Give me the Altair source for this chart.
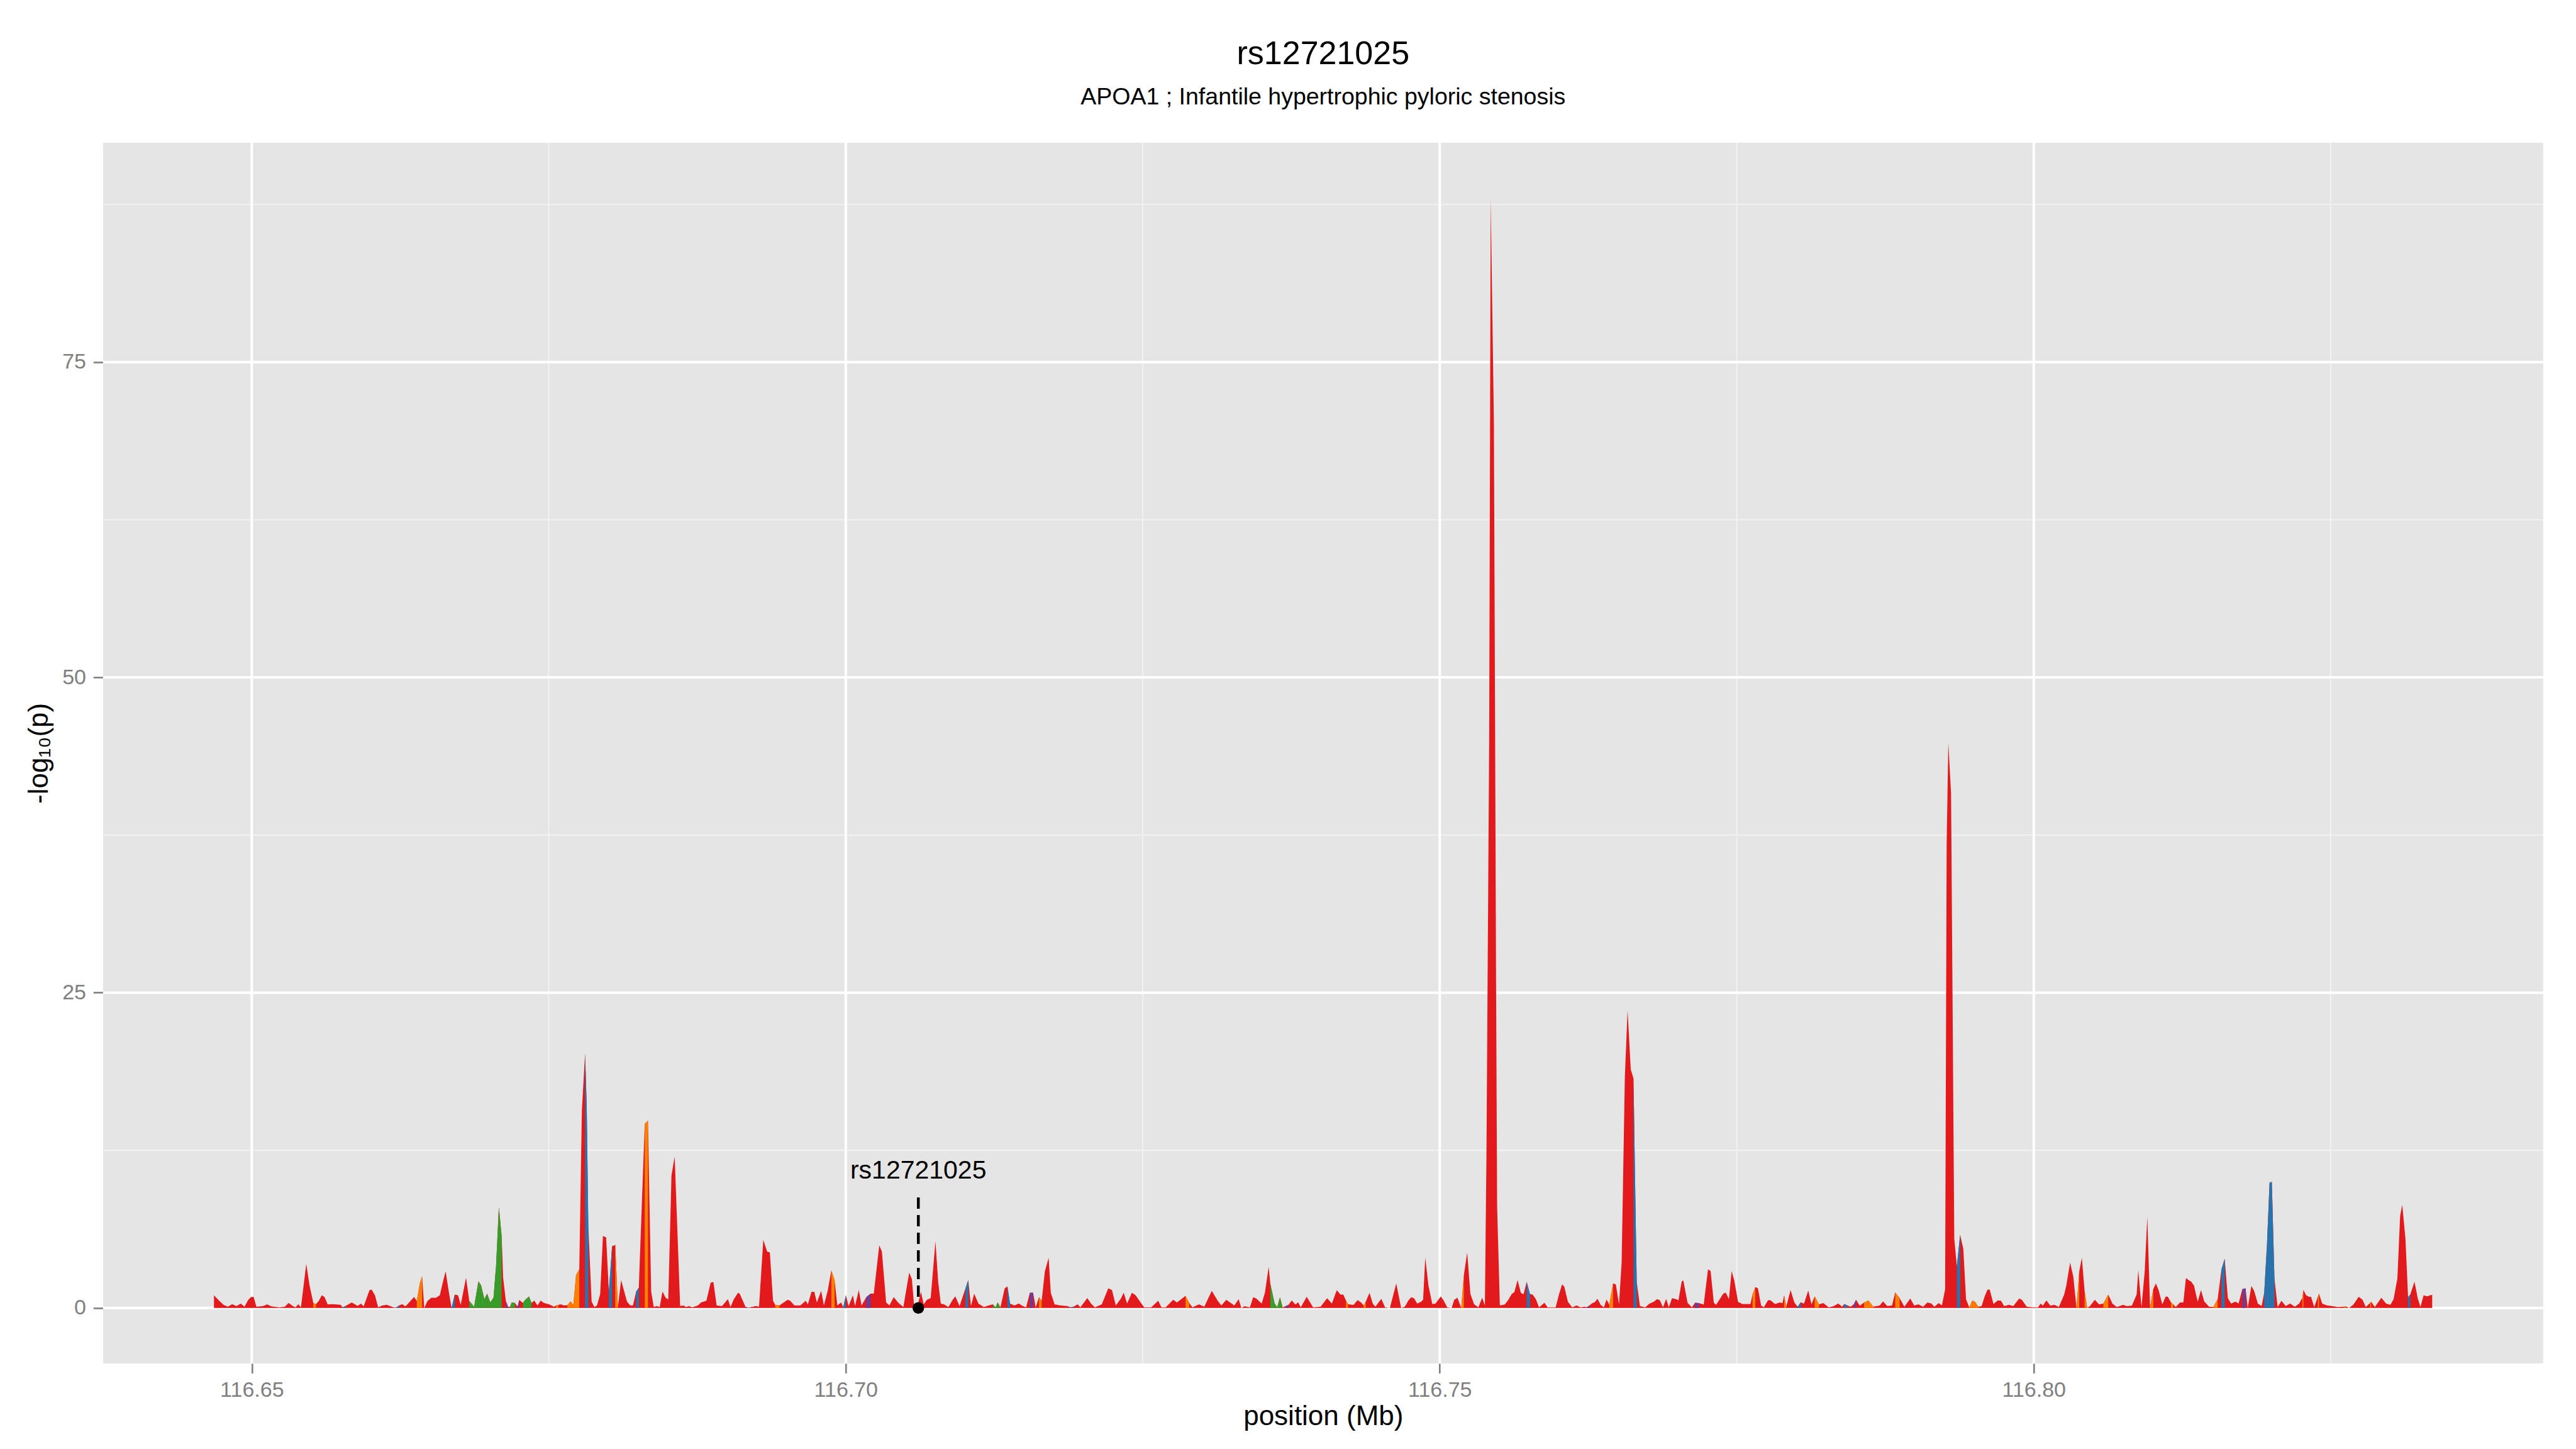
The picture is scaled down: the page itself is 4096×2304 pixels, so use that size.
import altair as alt
import pandas as pd
import numpy as np

# ---------------- text ----------------
TITLE = "rs12721025"
SUBTITLE = "APOA1 ; Infantile hypertrophic pyloric stenosis"
X_TITLE = "position (Mb)"
Y_TITLE = "-log\u2081\u2080(p)"
SNP_LABEL = "rs12721025"
SNP_POS = 116.70611
SNP_LINE_TOP = 8.76
SNP_LABEL_Y = 10.25

# ---------------- axes ----------------
X_DOMAIN = [116.63748, 116.84288]
Y_DOMAIN = [-4.4, 92.4]
X_MAJOR = [116.65, 116.70, 116.75, 116.80]
X_MINOR = [116.675, 116.725, 116.775, 116.825]
Y_MAJOR = [0, 25, 50, 75]
Y_MINOR = [12.5, 37.5, 62.5, 87.5]

# ---------------- data ----------------
position = [
    116.64682, 116.64723, 116.64763, 116.64799, 116.64835, 116.64872, 116.64908, 116.64939, 116.64971, 116.64994,
    116.65016, 116.65039, 116.65097, 116.65129, 116.65166, 116.65233, 116.65278, 116.65310, 116.65346, 116.65369,
    116.65391, 116.65414, 116.65459, 116.65486, 116.65518, 116.65540, 116.65563, 116.65590, 116.65612, 116.65639,
    116.65689, 116.65748, 116.65766, 116.65788, 116.65842, 116.65892, 116.65919, 116.65942, 116.65991, 116.66009,
    116.66037, 116.66064, 116.66100, 116.66136, 116.66195, 116.66218, 116.66240, 116.66267, 116.66294, 116.66340,
    116.66367, 116.66389, 116.66416, 116.66434, 116.66452, 116.66479, 116.66511, 116.66551, 116.66583, 116.66610,
    116.66632, 116.66660, 116.66682, 116.66709, 116.66736, 116.66759, 116.66781, 116.66804, 116.66831, 116.66872,
    116.66908, 116.66930, 116.66958, 116.66981, 116.67008, 116.67035, 116.67057, 116.67080, 116.67103, 116.67116,
    116.67139, 116.67157, 116.67175, 116.67188, 116.67215, 116.67238, 116.67252, 116.67283, 116.67301, 116.67333,
    116.67355, 116.67378, 116.67405, 116.67432, 116.67459, 116.67504, 116.67544, 116.67563, 116.67581, 116.67603,
    116.67626, 116.67657, 116.67684, 116.67707, 116.67730, 116.67757, 116.67779, 116.67806, 116.67820, 116.67833,
    116.67861, 116.67884, 116.67906, 116.67933, 116.67956, 116.67983, 116.68006, 116.68033, 116.68060, 116.68082,
    116.68109, 116.68159, 116.68186, 116.68209, 116.68236, 116.68258, 116.68308, 116.68335, 116.68362, 116.68384,
    116.68407, 116.68434, 116.68457, 116.68484, 116.68506, 116.68533, 116.68560, 116.68606, 116.68633, 116.68655,
    116.68678, 116.68709, 116.68755, 116.68782, 116.68827, 116.68863, 116.68886, 116.68913, 116.68958, 116.69008,
    116.69030, 116.69058, 116.69094, 116.69107, 116.69157, 116.69179, 116.69243, 116.69270, 116.69306, 116.69338,
    116.69361, 116.69388, 116.69406, 116.69442, 116.69510, 116.69532, 116.69568, 116.69618, 116.69663, 116.69681,
    116.69712, 116.69735, 116.69757, 116.69793, 116.69816, 116.69848, 116.69879, 116.69906, 116.69929, 116.69961,
    116.69979, 116.70001, 116.70024, 116.70060, 116.70078, 116.70110, 116.70133, 116.70173, 116.70209, 116.70236,
    116.70282, 116.70304, 116.70340, 116.70367, 116.70404, 116.70440, 116.70485, 116.70534, 116.70557, 116.70575,
    116.70611, 116.70633, 116.70656, 116.70683, 116.70715, 116.70755, 116.70778, 116.70800, 116.70827, 116.70864,
    116.70900, 116.70922, 116.70958, 116.71008, 116.71031, 116.71054, 116.71081, 116.71117, 116.71162, 116.71203,
    116.71239, 116.71261, 116.71279, 116.71302, 116.71338, 116.71361, 116.71383, 116.71419, 116.71456, 116.71491,
    116.71518, 116.71550, 116.71577, 116.71599, 116.71627, 116.71649, 116.71676, 116.71708, 116.71726, 116.71758,
    116.71807, 116.71866, 116.71893, 116.71916, 116.71952, 116.71975, 116.72033, 116.72065, 116.72097, 116.72155,
    116.72210, 116.72241, 116.72273, 116.72313, 116.72340, 116.72368, 116.72409, 116.72440, 116.72472, 116.72512,
    116.72571, 116.72630, 116.72657, 116.72693, 116.72756, 116.72788, 116.72860, 116.72891, 116.72918, 116.72973,
    116.73018, 116.73081, 116.73131, 116.73162, 116.73203, 116.73271, 116.73307, 116.73330, 116.73357, 116.73402,
    116.73429, 116.73456, 116.73501, 116.73528, 116.73560, 116.73574, 116.73610, 116.73632, 116.73655, 116.73677,
    116.73704, 116.73727, 116.73754, 116.73785, 116.73808, 116.73830, 116.73880, 116.73934, 116.73997, 116.74052,
    116.74092, 116.74133, 116.74165, 116.74188, 116.74210, 116.74228, 116.74273, 116.74309, 116.74341, 116.74359,
    116.74377, 116.74409, 116.74436, 116.74458, 116.74508, 116.74540, 116.74580, 116.74634, 116.74675, 116.74706,
    116.74738, 116.74760, 116.74783, 116.74810, 116.74842, 116.74860, 116.74878, 116.74905, 116.74937, 116.74964,
    116.75009, 116.75031, 116.75063, 116.75100, 116.75122, 116.75149, 116.75181, 116.75203, 116.75231, 116.75258,
    116.75289, 116.75325, 116.75357, 116.75380, 116.75393, 116.75416, 116.75429, 116.75456, 116.75474, 116.75483,
    116.75506, 116.75547, 116.75574, 116.75606, 116.75628, 116.75655, 116.75683, 116.75705, 116.75732, 116.75759,
    116.75782, 116.75809, 116.75836, 116.75881, 116.75908, 116.75976, 116.76003, 116.76030, 116.76048, 116.76079,
    116.76115, 116.76152, 116.76183, 116.76224, 116.76237, 116.76260, 116.76283, 116.76305, 116.76328, 116.76355,
    116.76382, 116.76404, 116.76427, 116.76459, 116.76482, 116.76509, 116.76531, 116.76558, 116.76581, 116.76608,
    116.76631, 116.76644, 116.76658, 116.76685, 116.76730, 116.76762, 116.76802, 116.76829, 116.76852, 116.76879,
    116.76906, 116.76928, 116.76955, 116.76991, 116.77009, 116.77037, 116.77050, 116.77086, 116.77122, 116.77149,
    116.77181, 116.77222, 116.77258, 116.77280, 116.77307, 116.77326, 116.77362, 116.77385, 116.77407, 116.77434,
    116.77457, 116.77479, 116.77511, 116.77547, 116.77574, 116.77615, 116.77633, 116.77656, 116.77678, 116.77705,
    116.77728, 116.77764, 116.77786, 116.77822, 116.77863, 116.77885, 116.77899, 116.77917, 116.77953, 116.77985,
    116.78012, 116.78039, 116.78066, 116.78102, 116.78129, 116.78156, 116.78192, 116.78229, 116.78274, 116.78310,
    116.78355, 116.78387, 116.78405, 116.78432, 116.78459, 116.78486, 116.78504, 116.78536, 116.78572, 116.78608,
    116.78649, 116.78704, 116.78731, 116.78767, 116.78807, 116.78834, 116.78871, 116.78911, 116.78961, 116.78993,
    116.79029, 116.79069, 116.79105, 116.79137, 116.79164, 116.79200, 116.79227, 116.79254, 116.79267, 116.79281,
    116.79304, 116.79331, 116.79353, 116.79380, 116.79407, 116.79430, 116.79457, 116.79484, 116.79507, 116.79534,
    116.79561, 116.79588, 116.79611, 116.79629, 116.79661, 116.79697, 116.79724, 116.79751, 116.79792, 116.79828,
    116.79877, 116.79900, 116.79941, 116.79995, 116.80036, 116.80058, 116.80076, 116.80107, 116.80139, 116.80175,
    116.80211, 116.80256, 116.80274, 116.80306, 116.80333, 116.80360, 116.80383, 116.80405, 116.80428, 116.80450,
    116.80473, 116.80514, 116.80550, 116.80586, 116.80627, 116.80663, 116.80699, 116.80753, 116.80780, 116.80826,
    116.80866, 116.80880, 116.80907, 116.80934, 116.80956, 116.80979, 116.81006, 116.81028, 116.81051, 116.81082,
    116.81110, 116.81128, 116.81155, 116.81173, 116.81195, 116.81231, 116.81259, 116.81281, 116.81304, 116.81326,
    116.81349, 116.81380, 116.81408, 116.81435, 116.81476, 116.81512, 116.81548, 116.81580, 116.81607, 116.81634,
    116.81661, 116.81697, 116.81724, 116.81756, 116.81783, 116.81801, 116.81832, 116.81855, 116.81886, 116.81918,
    116.81940, 116.81963, 116.81985, 116.82004, 116.82026, 116.82053, 116.82085, 116.82121, 116.82157, 116.82198,
    116.82234, 116.82261, 116.82270, 116.82293, 116.82316, 116.82334, 116.82361, 116.82392, 116.82401, 116.82428,
    116.82465, 116.82510, 116.82559, 116.82609, 116.82627, 116.82654, 116.82690, 116.82735, 116.82768, 116.82795,
    116.82831, 116.82840, 116.82871, 116.82926, 116.82966, 116.83002, 116.83029, 116.83061, 116.83084, 116.83102,
    116.83129, 116.83151, 116.83169, 116.83205, 116.83232, 116.83255, 116.83282, 116.83309, 116.83354,
]

log_p = [
    1.0, 0.6, 0.25, 0.1, 0.3, 0.15, 0.35, 0.1, 0.65, 0.87,
    0.87, 0.1, 0.15, 0.28, 0.12, 0.05, 0.1, 0.4, 0.15, 0.05,
    0.3, 0.05, 3.5, 1.8, 0.4, 0.3, 0.55, 1.0, 0.87, 0.28,
    0.3, 0.24, 0.05, 0.15, 0.43, 0.16, 0.35, 0.12, 1.4, 1.46,
    1.0, 0.05, 0.2, 0.24, 0.05, 0.05, 0.2, 0.3, 0.12, 0.6,
    0.87, 0.55, 2.0, 2.5, 0.0, 0.55, 0.8, 0.8, 1.0, 2.1,
    2.9, 1.2, 0.0, 1.05, 1.0, 0.24, 1.3, 2.4, 0.55, 0.1,
    2.1, 1.8, 0.7, 1.13, 0.44, 0.8, 3.4, 8.0, 5.75, 2.4,
    0.55, 0.08, 0.1, 0.43, 0.4, 0.1, 0.63, 0.4, 0.63, 0.9,
    0.4, 0.58, 0.2, 0.58, 0.4, 0.28, 0.1, 0.2, 0.24, 0.28,
    0.2, 0.22, 0.52, 0.25, 2.6, 3.06, 15.7, 20.2, 15.8, 6.5,
    0.5, 0.07, 0.2, 1.1, 5.7, 5.6, 1.3, 4.9, 5.0, 0.07,
    2.2, 0.5, 0.2, 0.2, 1.3, 1.6, 14.6, 14.85, 1.3, 0.07,
    0.15, 0.07, 1.3, 0.8, 0.67, 10.5, 12.0, 0.15, 0.2, 0.07,
    0.15, 0.05, 0.2, 0.43, 0.57, 2.0, 2.05, 0.2, 0.14, 0.7,
    0.07, 0.7, 1.2, 1.13, 0.07, 0.02, 0.14, 0.1, 5.4, 4.47,
    4.4, 0.57, 0.25, 0.2, 0.64, 0.57, 0.2, 0.2, 0.57, 0.28,
    1.28, 1.28, 0.43, 1.35, 0.2, 1.35, 2.98, 2.2, 0.2, 0.43,
    0.07, 1.0, 0.14, 1.0, 0.14, 1.42, 0.2, 0.85, 1.13, 1.13,
    4.96, 4.47, 0.43, 0.2, 0.85, 0.43, 0.07, 2.8, 2.27, 0.2,
    0.43, 1.28, 0.28, 0.64, 0.78, 5.3, 2.06, 0.35, 0.28, 0.07,
    0.64, 0.92, 0.14, 1.56, 2.2, 0.14, 1.13, 0.35, 0.07, 0.2,
    0.28, 0.05, 0.43, 0.05, 1.56, 1.7, 0.35, 0.2, 0.35, 0.14,
    0.05, 1.2, 1.2, 0.05, 0.85, 0.57, 2.9, 3.97, 1.2, 0.28,
    0.2, 0.14, 0.05, 0.1, 0.28, 0.05, 0.78, 0.35, 0.05, 0.28,
    1.56, 1.42, 0.2, 0.7, 1.2, 0.35, 1.2, 1.0, 0.57, 0.05,
    0.05, 0.57, 0.05, 0.05, 0.64, 0.43, 0.95, 0.4, 0.05, 0.28,
    0.1, 1.35, 0.57, 0.2, 0.64, 0.2, 0.7, 0.0, 0.13, 0.05,
    0.84, 0.74, 0.34, 1.19, 3.25, 1.9, 0.34, 0.06, 0.84, 0.05,
    0.15, 0.25, 0.6, 0.27, 0.45, 0.05, 0.88, 0.05, 0.1, 0.77,
    0.34, 1.4, 1.05, 1.05, 0.6, 0.3, 0.23, 0.62, 0.41, 0.2,
    0.5, 1.19, 0.34, 0.1, 0.72, 0.05, 0.0, 1.94, 0.0, 0.1,
    0.62, 0.84, 0.77, 0.34, 0.48, 0.65, 4.0, 1.76, 0.31, 0.35,
    0.91, 0.62, 0.05, 0.0, 0.65, 0.8, 0.0, 2.6, 4.4, 1.1,
    0.3, 0.05, 0.8, 0.2, 12.0, 45.0, 88.0, 70.0, 26.0, 8.0,
    0.2, 0.27, 0.6, 1.1, 1.26, 2.2, 1.19, 1.08, 2.07, 1.1,
    1.05, 0.7, 0.05, 0.41, 0.05, 0.05, 1.05, 1.86, 1.69, 0.48,
    0.05, 0.2, 0.05, 0.1, 0.05, 0.2, 0.37, 0.46, 0.72, 0.23,
    0.05, 0.67, 0.26, 1.94, 1.87, 0.28, 3.6, 18.3, 23.6, 18.9,
    18.2, 10.2, 2.05, 0.14, 0.05, 0.32, 0.5, 0.7, 0.62, 0.05,
    0.72, 0.05, 0.77, 0.7, 0.6, 2.1, 2.18, 0.41, 0.05, 0.41,
    0.38, 0.27, 3.06, 2.92, 0.41, 0.25, 0.77, 1.12, 1.22, 0.7,
    2.92, 2.18, 0.48, 0.31, 0.31, 0.31, 1.05, 1.65, 1.55, 0.2,
    0.05, 0.62, 0.6, 0.31, 0.43, 0.38, 1.0, 0.1, 1.42, 0.43,
    0.1, 0.45, 0.35, 1.38, 0.28, 0.92, 0.28, 0.38, 0.05, 0.12,
    0.35, 0.1, 0.31, 0.2, 0.1, 0.3, 0.64, 0.17, 0.43, 0.6,
    0.1, 0.2, 0.52, 0.14, 0.2, 1.23, 0.78, 0.1, 0.74, 0.2,
    0.28, 0.1, 0.43, 0.36, 0.1, 0.38, 0.2, 1.47, 36.9, 44.8,
    40.8, 5.5, 3.3, 5.8, 4.7, 0.7, 0.05, 0.6, 0.47, 0.1,
    0.15, 0.94, 1.46, 1.46, 0.31, 0.6, 0.57, 0.14, 0.24, 0.14,
    0.75, 0.64, 0.1, 0.05, 0.05, 0.35, 0.18, 0.6, 0.18, 0.24,
    0.07, 1.06, 1.77, 3.6, 2.48, 0.0, 2.9, 3.97, 1.35, 0.0,
    0.14, 0.64, 0.28, 0.35, 1.06, 0.33, 0.07, 0.24, 0.14, 0.18,
    1.06, 2.98, 0.07, 2.9, 7.23, 0.05, 1.49, 1.94, 1.42, 0.28,
    0.89, 0.89, 0.45, 0.3, 0.07, 0.43, 0.43, 2.37, 2.2, 2.08,
    1.77, 0.5, 1.42, 0.52, 0.1, 0.07, 0.7, 3.05, 3.9, 0.78,
    0.35, 0.5, 0.35, 1.49, 1.56, 0.0, 1.74, 1.35, 0.35, 0.14,
    1.2, 5.0, 9.93, 10.0, 2.34, 0.07, 0.57, 0.14, 0.35, 0.1,
    0.35, 0.8, 1.42, 1.0, 0.88, 0.88, 0.07, 0.9, 1.13, 0.35,
    0.21, 0.14, 0.07, 0.1, 0.12, 0.0, 0.26, 0.88, 0.64, 0.07,
    0.4, 0.5, 0.07, 0.81, 0.35, 0.24, 0.7, 2.34, 7.3, 8.18,
    5.46, 0.85, 1.06, 2.08, 0.78, 0.07, 1.0, 0.92, 1.04,
]

# segments (from a SNP to the next one) that are drawn in another colour
seg_start = [
    116.65518, 116.65766, 116.66218, 116.66389, 116.66416, 116.66682,
    116.66831, 116.66872, 116.66908, 116.66930, 116.66958, 116.66981, 116.67008, 116.67035, 116.67057, 116.67080,
    116.67139, 116.67175, 116.67188, 116.67238, 116.67283, 116.67301, 116.67333,
    116.67563, 116.67657, 116.67684, 116.67707, 116.67730,
    116.67806, 116.67820, 116.68006, 116.68060, 116.68236, 116.68308,
    116.69157, 116.69406, 116.69879, 116.69979, 116.70173,
    116.71008, 116.71239, 116.71261, 116.71279, 116.71361, 116.71550, 116.71627, 116.71893,
    116.72860, 116.73574, 116.73610, 116.73632, 116.73655, 116.73704,
    116.74210, 116.74359, 116.75181, 116.75732, 116.76237, 116.76427, 116.76631, 116.76644,
    116.77149, 116.77633, 116.77899, 116.78012, 116.78156, 116.78405, 116.78486, 116.78572, 116.78608,
    116.78834, 116.79353, 116.79457, 116.79484, 116.79507,
    116.80360, 116.80428, 116.80586, 116.80979, 116.81155, 116.81512, 116.81580, 116.81756,
    116.81940, 116.81963, 116.81985, 116.82004,
    116.82261, 116.82392, 116.82609, 116.82831, 116.83151,
]
seg_class = [
    "o", "b", "b", "o", "o", "b",
    "g", "g", "g", "g", "g", "g", "g", "g", "g", "g",
    "p", "g", "g", "p", "g", "g", "g",
    "o", "o", "o", "o", "o",
    "b", "b", "b", "o", "b", "o",
    "p", "o", "o", "b", "p",
    "b", "g", "g", "g", "b", "p", "o", "b",
    "o", "g", "g", "g", "g", "p",
    "o", "o", "o", "b", "p", "o", "b", "b",
    "p", "o", "o", "b", "o", "b", "p", "o", "o",
    "o", "b", "o", "o", "o",
    "o", "o", "o", "o", "o", "o", "b", "p",
    "b", "b", "b", "b",
    "o", "o", "o", "o", "b",
]

CLASS_CODES = ["b", "g", "o", "p"]
CLASS_COLORS = ["#1F78B4", "#33A02C", "#FF7F00", "#6A3D9A"]
RED = "#E31A1C"

# ---------------- tables ----------------
main_df = pd.DataFrame({"pos": position, "val": log_p})
pos_arr = np.array(position)
rows = []
for k, (s, c) in enumerate(zip(seg_start, seg_class)):
    i = int(np.argmin(np.abs(pos_arr - s)))
    for j in (i, i + 1):
        rows.append({"seg": k, "pos": position[j], "val": log_p[j], "cls": c})
seg_df = pd.DataFrame(rows)

# ---------------- layout ----------------
W = 3880
H = 1941
FONT = "Liberation Sans"

x_enc = alt.X(
    "pos:Q",
    scale=alt.Scale(domain=X_DOMAIN, nice=False, zero=False),
    axis=alt.Axis(values=X_MAJOR, format=".2f", title=X_TITLE,
                  labelBaseline="alphabetic", labelPadding=37.4,
                  titleX=W / 2, titleY=97.8, titleBaseline="alphabetic", titleAlign="center"),
)
y_enc = alt.Y(
    "val:Q",
    stack=None,
    scale=alt.Scale(domain=Y_DOMAIN, nice=False, zero=False),
    axis=alt.Axis(values=Y_MAJOR, format="d", title=Y_TITLE, labelPadding=11.8,
                  titleX=-88, titleY=H / 2, titleAngle=270, titleBaseline="alphabetic",
                  titleAlign="center"),
)

vminor = alt.Chart(pd.DataFrame({"pos": X_MINOR})).mark_rule(color="#F2F2F2", strokeWidth=1.9).encode(x=x_enc)
hminor = alt.Chart(pd.DataFrame({"val": Y_MINOR})).mark_rule(color="#F2F2F2", strokeWidth=1.9).encode(y=y_enc)
vmajor = alt.Chart(pd.DataFrame({"pos": X_MAJOR})).mark_rule(color="#FFFFFF", strokeWidth=4).encode(x=x_enc)
hmajor = alt.Chart(pd.DataFrame({"val": Y_MAJOR})).mark_rule(color="#FFFFFF", strokeWidth=4).encode(y=y_enc)

red_area = alt.Chart(main_df).mark_area(color=RED, interpolate="linear").encode(
    x=x_enc, y=y_enc, y2=alt.datum(0)
)
seg_area = alt.Chart(seg_df).mark_area(interpolate="linear").encode(
    x=x_enc, y=y_enc, y2=alt.datum(0),
    color=alt.Color("cls:N", scale=alt.Scale(domain=CLASS_CODES, range=CLASS_COLORS), legend=None),
    detail="seg:N",
)

snp_df = pd.DataFrame({"pos": [SNP_POS], "val": [SNP_LINE_TOP], "zero": [0.0],
                       "lab_y": [SNP_LABEL_Y], "label": [SNP_LABEL]})
snp_rule = alt.Chart(snp_df).mark_rule(color="black", strokeWidth=4.5, strokeDash=[18, 10]).encode(
    x=x_enc, y=y_enc, y2="zero:Q"
)
snp_point = alt.Chart(snp_df).mark_point(filled=True, color="black", size=340, opacity=1).encode(
    x=x_enc, y=alt.Y("zero:Q", scale=alt.Scale(domain=Y_DOMAIN, nice=False, zero=False))
)
snp_text = alt.Chart(snp_df).mark_text(font=FONT, fontSize=41, color="black", align="center",
                                       baseline="alphabetic").encode(
    x=x_enc, y=alt.Y("lab_y:Q", scale=alt.Scale(domain=Y_DOMAIN, nice=False, zero=False)),
    text="label:N"
)

title_t = alt.Chart(pd.DataFrame({"t": [TITLE]})).mark_text(
    font=FONT, fontSize=52, color="black", align="center", baseline="alphabetic"
).encode(text="t:N", x=alt.value(W / 2), y=alt.value(-125.1))
subtitle_t = alt.Chart(pd.DataFrame({"t": [SUBTITLE]})).mark_text(
    font=FONT, fontSize=37.5, color="black", align="center", baseline="alphabetic"
).encode(text="t:N", x=alt.value(W / 2), y=alt.value(-60.6))

chart = alt.layer(
    vminor, hminor, vmajor, hmajor, red_area, seg_area, snp_rule, snp_point, snp_text, title_t, subtitle_t
).properties(
    width=W, height=H,
    padding={"left": 155.8, "top": 218.9, "right": 40, "bottom": 125},
    autosize=alt.AutoSizeParams(type="none"),
).configure_view(
    fill="#E5E5E5", stroke=None
).configure_axis(
    domain=False, grid=False,
    labelFont=FONT, labelFontSize=34, labelColor="#7F7F7F",
    tickColor="#7F7F7F", tickSize=15.5, tickWidth=2.6,
    titleFont=FONT, titleFontSize=44, titleColor="black", titleFontWeight="normal",
)

chart.save("out.html", embed_options={"renderer": "svg", "actions": False})
